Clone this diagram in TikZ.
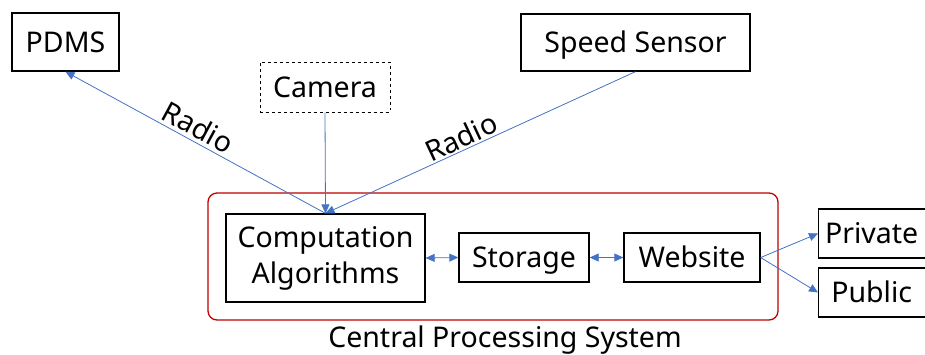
\documentclass[tikz,border=0pt]{standalone}
\usepackage{fontspec}
\setmainfont{Noto Sans}
\usetikzlibrary{arrows.meta}
\definecolor{lnblue}{RGB}{68,114,196}
\definecolor{boxred}{RGB}{192,0,0}
\begin{document}
\begin{tikzpicture}[x=1bp,y=-1bp,
  every node/.style={font=\fontsize{28.5bp}{36bp}\selectfont, inner sep=0pt},
  ctext/.style={text height=20.5bp, text depth=0bp},
  bx/.style={draw=black, line width=1.3bp, minimum width=#1, ctext},
  conn/.style={draw=lnblue, line width=0.8bp, -{Triangle[length=9bp,width=8bp]}},
  dconn/.style={draw=lnblue, line width=0.8bp, {Triangle[length=9bp,width=8bp]}-{Triangle[length=9bp,width=8bp]}}]
\useasboundingbox (0,0) rectangle (925,354);
\clip (0,0) rectangle (925,354);
% boxes
\node[bx=107bp, minimum height=58bp] (pdms) at (65.5,42) {PDMS};
\node[draw=black, line width=1bp, dashed, minimum width=130bp, minimum height=50bp, ctext] (cam) at (325,87) {Camera};
\node[bx=229bp, minimum height=57bp] (speed) at (635.5,42.5) {Speed Sensor};
\node[draw=boxred, line width=1.3bp, rounded corners=9bp, minimum width=570bp, minimum height=127bp] (cps) at (493,256.5) {};
\node[draw=black, line width=1.3bp, minimum width=199bp, minimum height=88bp, align=center] (comp) at (325.5,258) {Computation\\Algorithms};
\node[bx=130bp, minimum height=49bp] (stor) at (524,257.5) {Storage};
\node[bx=136bp, minimum height=49bp] (web) at (692,257.5) {Website};
\node[bx=110bp, minimum height=49bp, anchor=west] (priv) at (818,233.5) {\hspace*{-4bp}Private};
\node[bx=110bp, minimum height=49bp, anchor=west] (pub) at (818,292.5) {\hspace*{-4bp}Public};
\node[anchor=base] (cpslbl) at (505,347) {Central Processing System};
% connectors
\draw[conn] (comp.north) -- (pdms.south);
\draw[conn] (cam.south) -- (comp.north);
\draw[conn] (speed.south) -- (comp.north);
\node[rotate=-28.5] (r1) at (198,127) {Radio};
\node[rotate=25] (r2) at (461,137) {Radio};
\draw[dconn] (comp.east) -- (stor.west);
\draw[dconn] (stor.east) -- (web.west);
\draw[conn] (web.east) -- (priv.west);
\draw[conn] (web.east) -- (pub.west);
\end{tikzpicture}
\end{document}
